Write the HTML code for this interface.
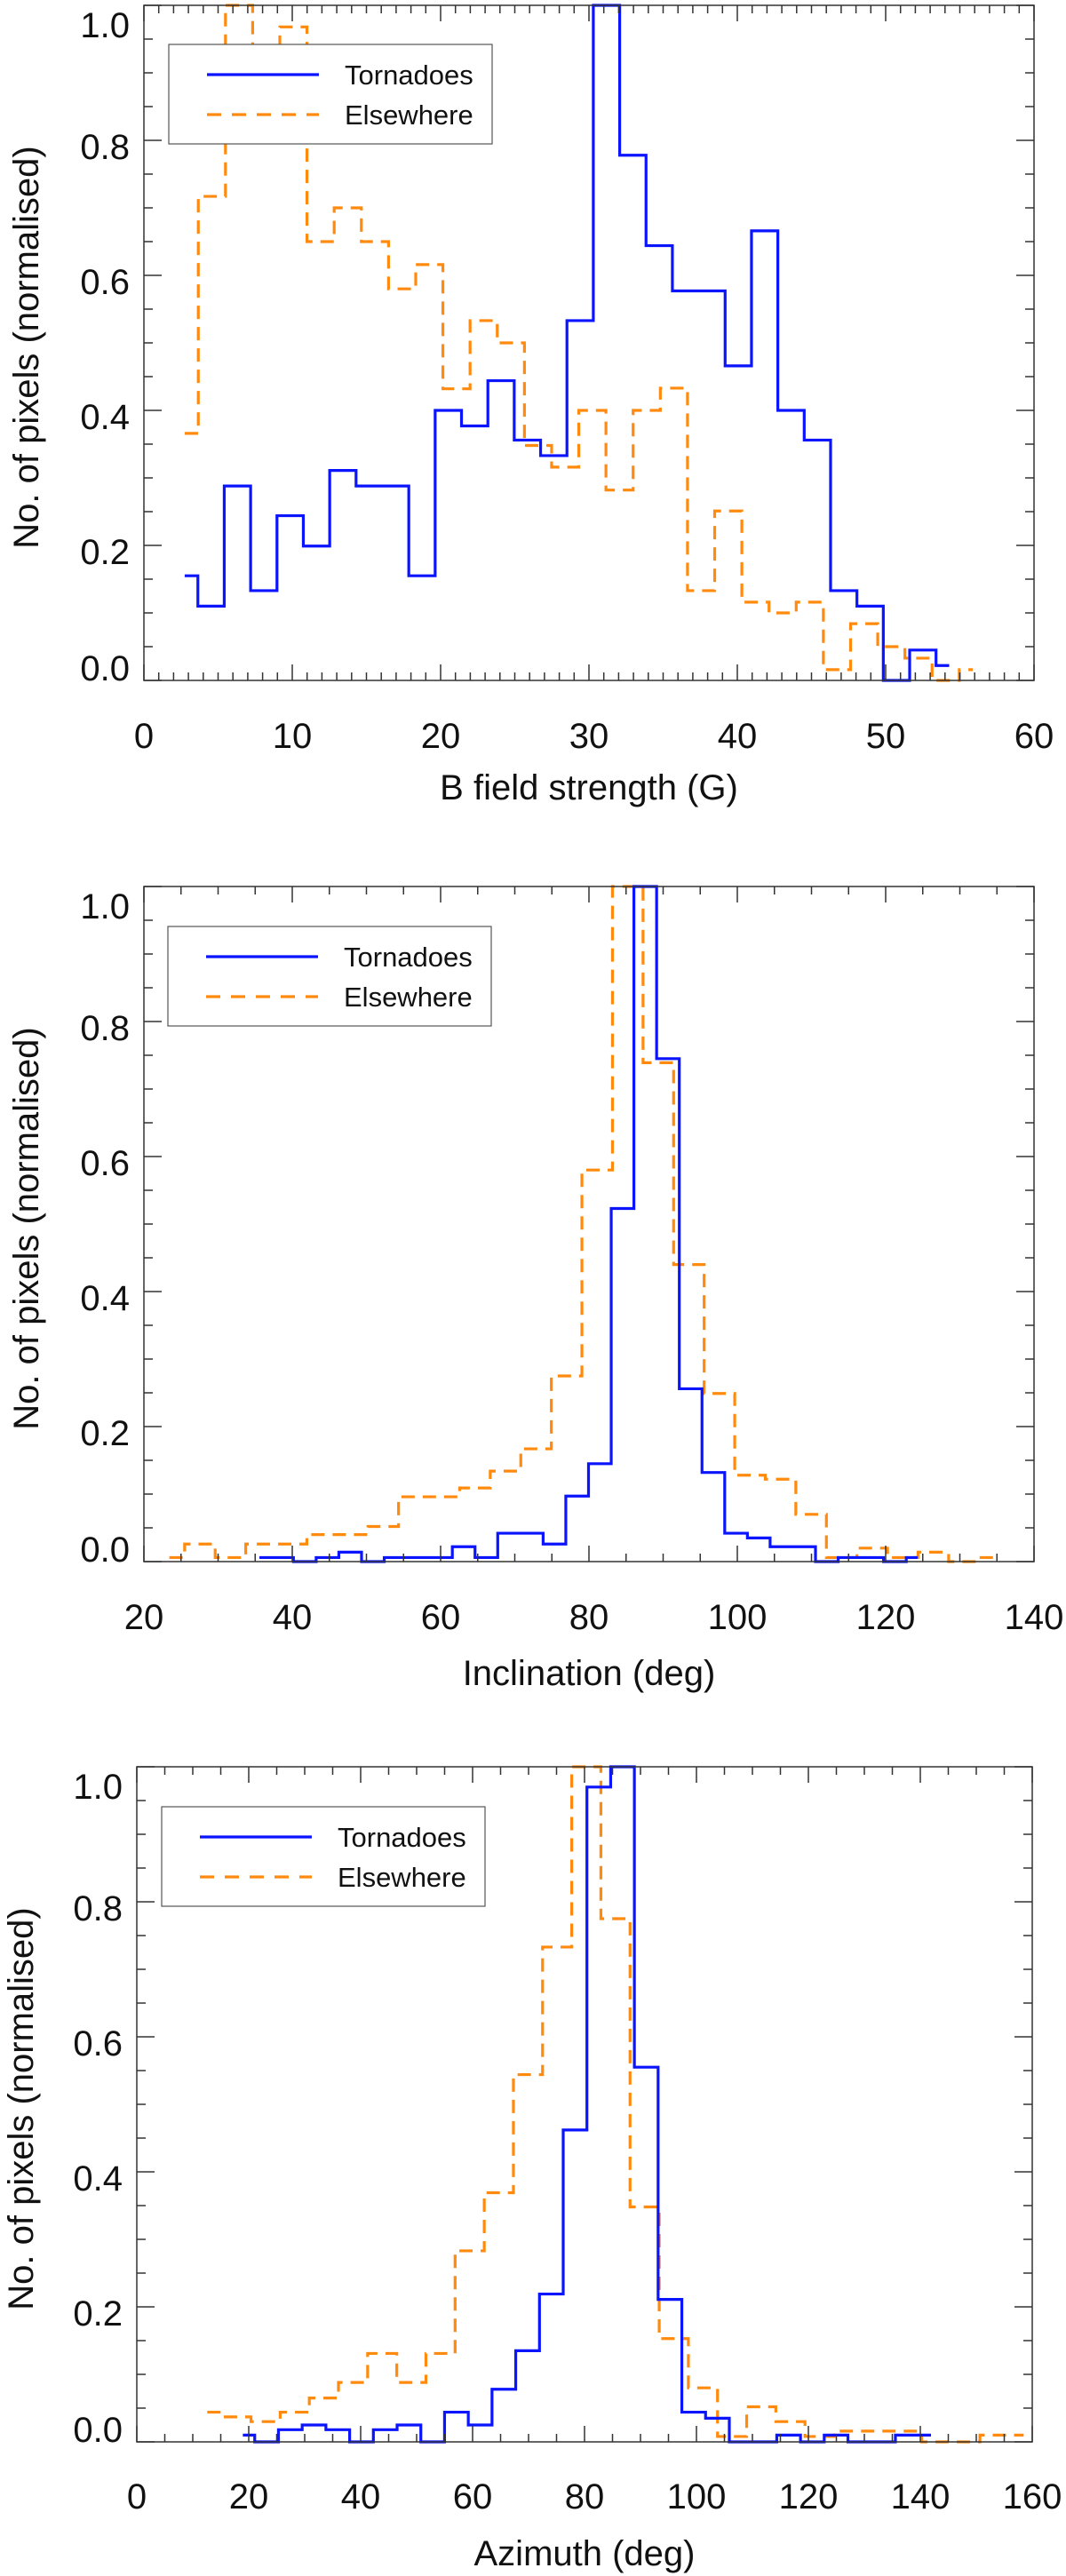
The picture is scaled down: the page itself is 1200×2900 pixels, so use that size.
<!DOCTYPE html>
<html><head><meta charset="utf-8">
<style>
html,body{margin:0;padding:0;background:#fff;}
svg{display:block;font-family:"Liberation Sans",Arial,sans-serif;}
</style></head>
<body>
<svg id="fig" width="1200" height="2900" viewBox="0 0 1200 2900" xmlns="http://www.w3.org/2000/svg"></svg>
<script>
// ---- Panel 1: B field strength ----
const p1BlueStart = 2.75, p1BlueWidth = 1.777;
const p1BlueValues = [0.155,0.11,0.288,0.133,0.244,0.199,0.311,0.288,0.288,0.155,0.40,0.377,0.444,0.356,0.333,0.533,1.0,0.778,0.644,0.577,0.577,0.466,0.666,0.40,0.356,0.133,0.11,0.0,0.045,0.022];
const p1OrangeStart = 2.75, p1OrangeWidth = 1.832;
const p1OrangeValues = [0.366,0.717,1.0,0.85,0.968,0.65,0.70,0.65,0.58,0.616,0.432,0.533,0.50,0.348,0.316,0.40,0.282,0.40,0.433,0.133,0.251,0.116,0.10,0.116,0.016,0.084,0.05,0.033,0.0,0.016];
const p1XTicks = ["0","10","20","30","40","50","60"];
// ---- Panel 2: Inclination ----
const p2BlueStart = 35.57, p2BlueWidth = 3.06;
const p2BlueValues = [0.006,0.006,0,0.006,0.014,0,0.006,0.006,0.006,0.022,0.006,0.042,0.042,0.026,0.097,0.145,0.523,1.0,0.745,0.256,0.132,0.042,0.035,0.022,0.022,0,0.006,0.006,0,0.006];
const p2OrangeStart = 23.43, p2OrangeWidth = 4.12;
const p2OrangeValues = [0.006,0.026,0.006,0.026,0.026,0.04,0.04,0.052,0.096,0.096,0.109,0.134,0.167,0.275,0.58,1.0,0.739,0.44,0.249,0.128,0.122,0.07,0.006,0.02,0.006,0.014,0,0.006];
const p2XTicks = ["20","40","60","80","100","120","140"];
// ---- Panel 3: Azimuth ----
const p3BlueStart = 18.95, p3BlueWidth = 4.24;
const p3BlueValues = [0.01,0,0.018,0.025,0.018,0,0.018,0.025,0,0.044,0.025,0.078,0.135,0.219,0.462,0.97,1.0,0.555,0.211,0.044,0.035,0,0,0.01,0,0.01,0,0,0.01,0.01];
const p3OrangeStart = 12.59, p3OrangeWidth = 5.21;
const p3OrangeValues = [0.044,0.037,0.03,0.044,0.065,0.088,0.131,0.088,0.131,0.283,0.369,0.544,0.733,1.0,0.775,0.348,0.153,0.08,0.008,0.052,0.03,0.008,0.016,0.016,0.016,0,0,0.01,0.01];
const p3XTicks = ["0","20","40","60","80","100","120","140","160"];
const yTicks = ["0.0","0.2","0.4","0.6","0.8","1.0"];

const NS = "http://www.w3.org/2000/svg";
const svg = document.getElementById('fig');
function mk(tag, attrs, parent){
  const e = document.createElementNS(NS, tag);
  for (const k in attrs) e.setAttribute(k, attrs[k]);
  (parent||svg).appendChild(e);
  return e;
}

const panels = [
  {id:'strength', L:162, R:1164, T:6, B:766, xmin:0, xmax:60, minor:1, major:10, ticks:p1XTicks, tickY:842, title:"B field strength (G)", titleY:900, ytX:30,
   blue:[p1BlueStart,p1BlueWidth,p1BlueValues], orange:[p1OrangeStart,p1OrangeWidth,p1OrangeValues], leg:[190,50]},
  {id:'inclination', L:162, R:1164, T:998, B:1758, xmin:20, xmax:140, minor:5, major:20, ticks:p2XTicks, tickY:1834, title:"Inclination (deg)", titleY:1897, ytX:30,
   blue:[p2BlueStart,p2BlueWidth,p2BlueValues], orange:[p2OrangeStart,p2OrangeWidth,p2OrangeValues], leg:[189,1043]},
  {id:'azimuth', L:154, R:1162, T:1989, B:2749, xmin:0, xmax:160, minor:5, major:20, ticks:p3XTicks, tickY:2824, title:"Azimuth (deg)", titleY:2888, ytX:24,
   blue:[p3BlueStart,p3BlueWidth,p3BlueValues], orange:[p3OrangeStart,p3OrangeWidth,p3OrangeValues], leg:[182,2034]}
];

panels.forEach(p=>{
  const g = mk('g', {});
  
  
  const xs = v => p.L + (v - p.xmin) / (p.xmax - p.xmin) * (p.R - p.L);
  const ys = v => p.B - v * (p.B - p.T);
  const clipId = 'clip-' + p.id;
  const cp = mk('clipPath', {id:clipId}, g);
  mk('rect', {x:p.L, y:p.T-2, width:p.R-p.L, height:p.B-p.T+4}, cp);

  // series
  function series(spec, color, dash, name){
    const [start, w, vals] = spec;
    const c = i => start + i*w;
    let d = `M${xs(c(0))},${ys(vals[0])} H${xs(c(0)+w/2)}`;
    for (let i=1;i<vals.length;i++){
      d += ` V${ys(vals[i])} H${xs(i<vals.length-1 ? c(i)+w/2 : c(i))}`;
    }
    const a = {d:d, fill:'none', stroke:color, 'stroke-width':3.2, 'clip-path':`url(#${clipId})`, 'stroke-linejoin':'miter'};
    if (dash) a['stroke-dasharray'] = dash;
    const path = mk('path', a, g);
    
    
  }
  series(p.orange, '#ff8a0d', '15,9', p.id + '-elsewhere-histogram');
  series(p.blue, '#0a14ff', null, p.id + '-tornadoes-histogram');

  // axes box
  const box = mk('rect', {x:p.L, y:p.T, width:p.R-p.L, height:p.B-p.T, fill:'none', stroke:'#333', 'stroke-width':1.5}, g);
  
  

  // x ticks
  let td = '';
  for (let v=p.xmin; v<=p.xmax+1e-9; v+=p.minor){
    const isMaj = Math.abs(((v - p.xmin) / p.major) - Math.round((v-p.xmin)/p.major)) < 1e-6 || Math.abs((v/p.major)-Math.round(v/p.major))<1e-6;
    const len = isMaj ? 18 : 9;
    const x = xs(v);
    td += `M${x},${p.B}v${-len}M${x},${p.T}v${len}`;
  }
  for (let k=0;k<=20;k++){
    const v = k*0.05, y = ys(v), len = (k%4===0)?20:10;
    td += `M${p.L},${y}h${len}M${p.R},${y}h${-len}`;
  }
  const ticks = mk('path', {d:td, stroke:'#333', 'stroke-width':1.5, fill:'none'}, g);
  
  

  // x labels
  p.ticks.forEach(t=>{
    const tx = mk('text', {x:xs(parseFloat(t)), y:p.tickY, 'text-anchor':'middle', 'font-size':40, fill:'#111'}, g);
    tx.textContent = t;
    
    
  });
  // y labels
  yTicks.forEach((t,i)=>{
    const v = parseFloat(t);
    let cy = ys(v) + 7;
    if (i===0) cy = p.B - 14;
    if (i===yTicks.length-1) cy = p.T + 22;
    const ty = mk('text', {x:p.L-16, y:cy+14, 'text-anchor':'end', 'font-size':40, fill:'#111'}, g);
    ty.textContent = t;
    
    
  });
  // titles
  const xt = mk('text', {x:(p.L+p.R)/2, y:p.titleY, 'text-anchor':'middle', 'font-size':40, fill:'#111'}, g);
  xt.textContent = p.title;
  
  
  const cyT = (p.T+p.B)/2 + 5;
  const yt = mk('text', {x:p.ytX, y:cyT, 'text-anchor':'middle', 'font-size':40, fill:'#111', transform:`rotate(-90 ${p.ytX} ${cyT})`, 'dominant-baseline':'central'}, g);
  yt.textContent = "No. of pixels (normalised)";
  
  

  // legend
  const [lx, ly] = p.leg;
  const lg = mk('g', {}, g);
  
  
  mk('rect', {x:lx, y:ly, width:364, height:112, fill:'#fff', stroke:'#555', 'stroke-width':1.2}, lg);
  const l1 = mk('path', {d:`M${lx+43},${ly+34}H${lx+169}`, stroke:'#0a14ff', 'stroke-width':3.2}, lg);
  
  
  const t1 = mk('text', {x:lx+198, y:ly+45, 'font-size':31, fill:'#111'}, lg);
  t1.textContent = 'Tornadoes';
  
  
  const l2 = mk('path', {d:`M${lx+43},${ly+79}H${lx+169}`, stroke:'#ff8a0d', 'stroke-width':3.2, 'stroke-dasharray':'16,12'}, lg);
  
  
  const t2 = mk('text', {x:lx+198, y:ly+90, 'font-size':31, fill:'#111'}, lg);
  t2.textContent = 'Elsewhere';
  
  
});
</script>
</body></html>
